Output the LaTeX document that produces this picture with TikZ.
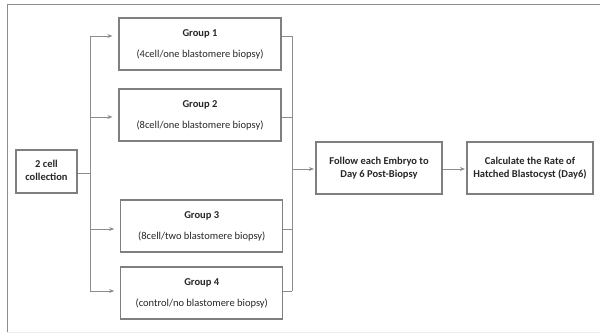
\documentclass[tikz,border=0pt]{standalone}
\usepackage{fontspec}
\setmainfont{Carlito}
\usetikzlibrary{arrows.meta}
\definecolor{linegray}{HTML}{8C8C8C}
\definecolor{boxgray}{HTML}{7F7F7F}
\definecolor{txtgray}{HTML}{262626}
\tikzset{
  box/.style={draw=boxgray, line width=1.2pt, rectangle, inner sep=0pt, text=txtgray,
    font=\fontsize{10.5}{13}\selectfont, align=center},
  conn/.style={draw=linegray, line width=1pt},
  arr/.style={conn, -{Stealth[length=5pt,width=4pt]}},
}
\begin{document}
\begin{tikzpicture}[x=1pt,y=-1pt]
\useasboundingbox (0,0) rectangle (600,333);
% frame
\draw[draw=gray!90, line width=0.8pt] (601,4) -- (7,4) -- (7,332);
\draw[draw=gray!15, line width=0.8pt] (7,332) -- (601,332);
% boxes
\node[box, minimum width=162pt, minimum height=52pt] (g1) at (200,44) {\raisebox{4pt}{\begin{tabular}{c}\textbf{Group 1}\\[8pt](4cell/one blastomere biopsy)\end{tabular}}};
\node[box, minimum width=162pt, minimum height=52pt] (g2) at (200,115) {\raisebox{4pt}{\begin{tabular}{c}\textbf{Group 2}\\[8pt](8cell/one blastomere biopsy)\end{tabular}}};
\node[box, minimum width=162pt, minimum height=52pt] (g3) at (201.75,226) {\raisebox{4pt}{\begin{tabular}{c}\textbf{Group 3}\\[8pt](8cell/two blastomere biopsy)\end{tabular}}};
\node[box, minimum width=162pt, minimum height=52pt] (g4) at (201.75,293) {\raisebox{4pt}{\begin{tabular}{c}\textbf{Group 4}\\[8pt](control/no blastomere biopsy)\end{tabular}}};
\node[box, minimum width=61pt, minimum height=43pt, font=\fontsize{10.5}{13}\selectfont\bfseries] (c2) at (46.5,171.5) {\raisebox{3pt}{\begin{tabular}{@{}c@{}}2 cell\\collection\end{tabular}}};
\node[box, minimum width=126pt, minimum height=52pt, font=\fontsize{10.5}{13}\selectfont\bfseries] (fo) at (379,168) {\raisebox{3pt}{\begin{tabular}{c}Follow each Embryo to\\Day 6 Post-Biopsy\end{tabular}}};
\node[box, minimum width=126pt, minimum height=52pt, font=\fontsize{10.5}{13}\selectfont\bfseries] (ca) at (530,168) {\raisebox{3pt}{\begin{tabular}{@{}c@{}}Calculate the Rate of\\Hatched Blastocyst (Day6)\end{tabular}}};
% left trunk
\coordinate (lc) at (90,173);
\coordinate (l1) at (90,36);
\coordinate (l2) at (90,117);
\coordinate (l3) at (90,229);
\coordinate (l4) at (90,291);
\draw[conn] (c2.east |- lc) -- (lc);
\draw[conn] (l1) -- (l4);
\draw[arr, shorten >=6pt] (l1) -- (l1 -| g1.west);
\draw[arr, shorten >=6pt] (l2) -- (l2 -| g2.west);
\draw[arr, shorten >=6pt] (l3) -- (l3 -| g3.west);
\draw[arr, shorten >=6pt] (l4) -- (l4 -| g4.west);
% right trunk
\coordinate (r1) at (292,36);
\coordinate (r2) at (292,117);
\coordinate (r3) at (292,229);
\coordinate (r4) at (292,291);
\coordinate (rc) at (292,169);
\draw[conn] (r1) -- (r4);
\draw[conn] (g1.east |- r1) -- (r1);
\draw[conn] (g2.east |- r2) -- (r2);
\draw[conn] (g3.east |- r3) -- (r3);
\draw[conn] (g4.east |- r4) -- (r4);
\draw[arr, shorten >=1.5pt] (rc) -- (rc -| fo.west);
\draw[arr, shorten >=1.5pt] (fo.east |- rc) -- (ca.west |- rc);
\end{tikzpicture}
\end{document}
